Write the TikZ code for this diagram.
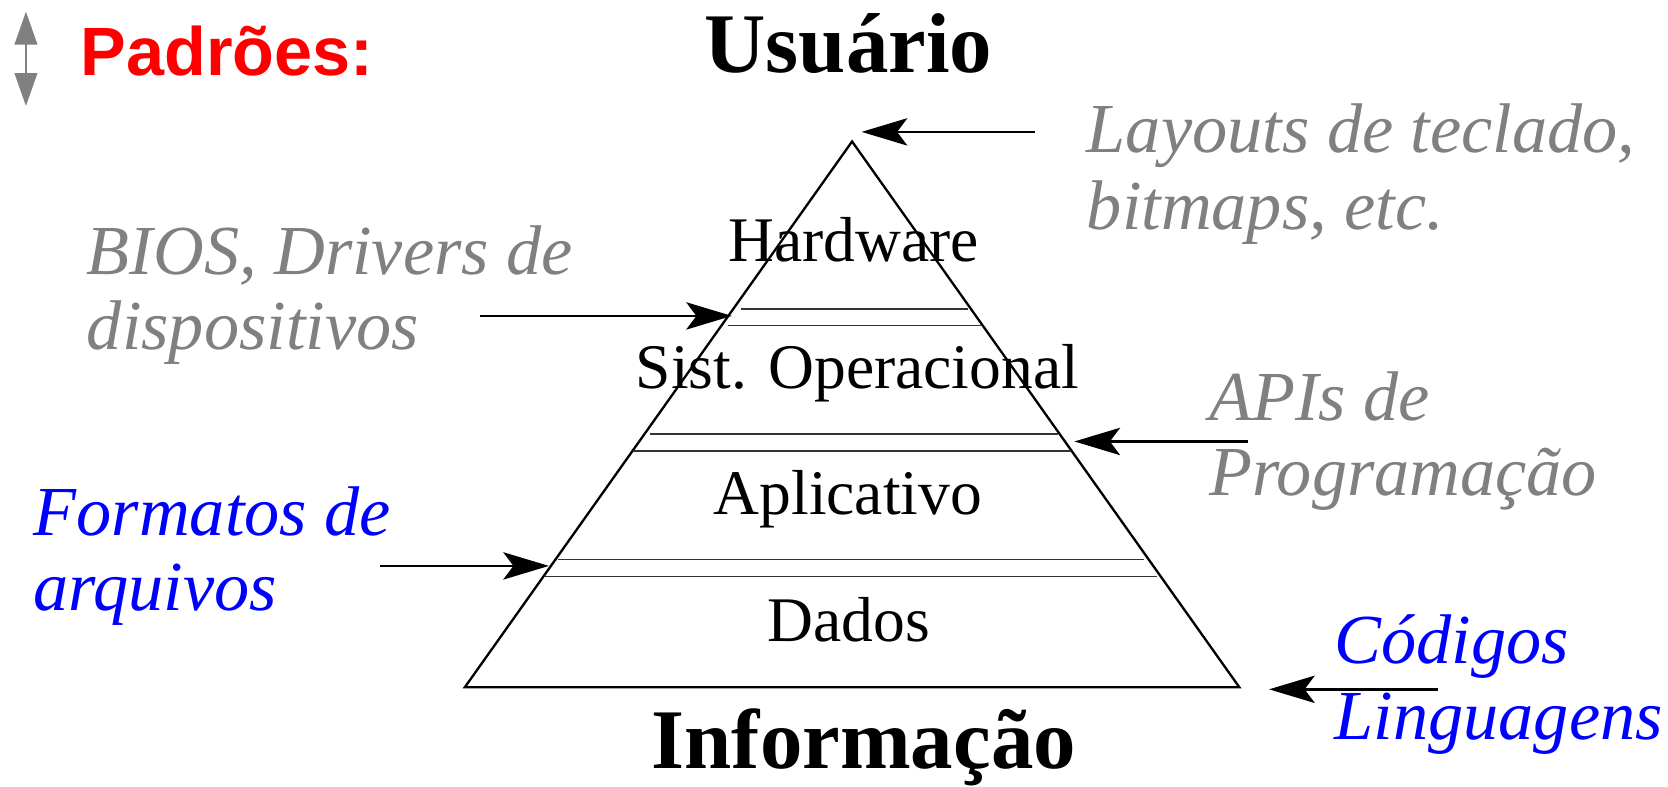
\documentclass[tikz,border=0pt]{standalone}
\usepackage{fontspec}
\setmainfont{Liberation Serif}
\newfontfamily\arialfont{Liberation Sans}
\usetikzlibrary{arrows.meta}
\definecolor{txtgray}{HTML}{808080}
\definecolor{txtblue}{HTML}{0000FF}
\definecolor{txtred}{HTML}{FF0000}
\definecolor{iconGray}{HTML}{808080}
\begin{document}
\begin{tikzpicture}[x=0.1mm,y=-0.1mm,
  lbl/.style={inner sep=0pt, anchor=base, font=\fontsize{17}{20}\selectfont},
  ttl/.style={inner sep=0pt, anchor=base, font=\fontsize{22.7}{27}\selectfont\bfseries},
  note/.style={inner sep=0pt, anchor=base west, font=\fontsize{18.8}{22}\selectfont\itshape},
  graynote/.style={note, text=txtgray},
  bluenote/.style={note, text=txtblue},
  sepline/.style={draw=black!80, line width=0.45pt},
  ptr/.style={-{Stealth[length=12.2pt,width=7.3pt,inset=2.7pt]}, line width=0.72pt},
  pyr/.style={draw, line width=0.62pt, line join=miter},
  updown/.style={{Triangle[length=8.8pt,width=6.1pt]}-{Triangle[length=8.8pt,width=6.1pt]}, draw=iconGray, line width=0.35pt}
]
\useasboundingbox (0,0) rectangle (1568,739);

% pyramid
\coordinate (apex) at (801,133);
\coordinate (bl) at (437,646);
\coordinate (br) at (1165,646);
\draw[pyr] (apex) -- (br) -- (bl) -- cycle;

% layer separators
\draw[sepline] (697,290.5) -- (910,290.5);
\draw[sepline] (684,306) -- (923,306);
\draw[sepline] (611,408) -- (995,408);
\draw[sepline] (595,424) -- (1007,424);
\draw[sepline] (525,526) -- (1075,526);
\draw[sepline] (512,542) -- (1088,542);

% layer labels
\node[lbl] (hw) at (802.5,246) {Hardware};
\node[lbl] (so) at (806,365) {Sist. Operacional};
\node[lbl] (app) at (797,484) {Aplicativo};
\node[lbl] (dados) at (798,603) {Dados};

% titles
\node[ttl] (usr) at (797.5,68) {Usuário};
\node[ttl] (info) at (812,722) {Informação};

% Padrões
\coordinate (iconTop) at (24.4,11);
\coordinate (iconBot) at (24.4,99.6);
\draw[updown, fill=iconGray] (iconTop) -- (iconBot);
\node[inner sep=0pt, anchor=base west, font=\fontsize{18.3}{22}\selectfont\arialfont\bfseries, text=txtred] (padroes) at (75,71.4) {Padrões:};

% notes
\node[graynote] (lay1) at (1021,143) {Layouts de teclado,};
\node[graynote] (lay2) at (1021,216) {bitmaps, etc.};
\node[graynote] (bios1) at (81,258) {BIOS, Drivers de};
\node[graynote] (bios2) at (81,329) {dispositivos};
\node[graynote] (api1) at (1136,395) {APIs de};
\node[graynote] (api2) at (1136,466) {Programação};
\node[bluenote] (fmt1) at (31,503) {Formatos de};
\node[bluenote] (fmt2) at (31,574) {arquivos};
\node[bluenote] (cod1) at (1254,624) {Códigos};
\node[bluenote] (cod2) at (1254,695) {Linguagens};

% arrows
\coordinate (a1s) at (973,124);  \coordinate (a1e) at (810,124);
\coordinate (a2s) at (451,297);  \coordinate (a2e) at (688,297);
\coordinate (a3s) at (1173,415); \coordinate (a3e) at (1010,415);
\coordinate (a4s) at (357,532);  \coordinate (a4e) at (516,532);
\coordinate (a5s) at (1352,648); \coordinate (a5e) at (1193,648);
\draw[ptr] (a1s) -- (a1e);
\draw[ptr] (a2s) -- (a2e);
\draw[ptr] (a3s) -- (a3e);
\draw[ptr] (a4s) -- (a4e);
\draw[ptr] (a5s) -- (a5e);
\end{tikzpicture}
\end{document}
